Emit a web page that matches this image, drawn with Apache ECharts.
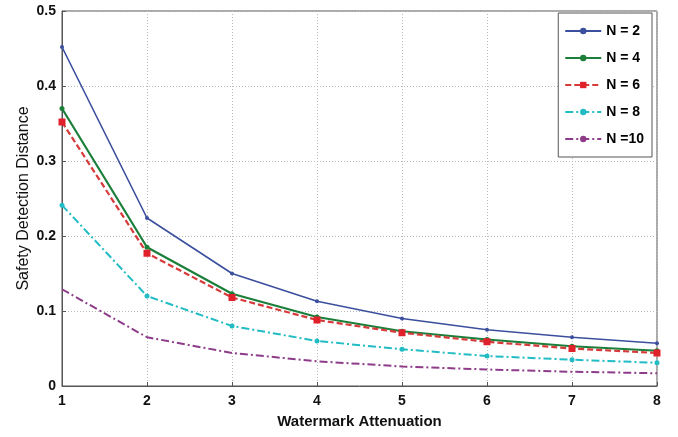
<!DOCTYPE html>
<html>
<head>
<meta charset="utf-8">
<script src="https://cdn.jsdelivr.net/npm/echarts@6/dist/echarts.min.js"></script>
<style>
  html, body { margin: 0; padding: 0; background: #fff; }
  #chart { width: 678px; height: 437px; }
</style>
</head>
<body>
<div id="chart"></div>
<script>
// values
var attenuation = [1, 2, 3, 4, 5, 6, 7, 8]
var n2 = [0.452, 0.224, 0.150, 0.113, 0.090, 0.075, 0.065, 0.057]
var n4 = [0.370, 0.185, 0.123, 0.092, 0.073, 0.062, 0.053, 0.047]
var n6 = [0.352, 0.177, 0.118, 0.088, 0.071, 0.059, 0.050, 0.044]
var n8 = [0.241, 0.120, 0.080, 0.060, 0.049, 0.040, 0.035, 0.031]
var n10 = [0.129, 0.065, 0.044, 0.033, 0.026, 0.022, 0.019, 0.017]
var seriesNames = ['N = 2', 'N = 4', 'N = 6', 'N = 8', 'N =10']

function pairs(vals) {
  return attenuation.map(function (x, i) { return [x, vals[i]] })
}

var chart = echarts.init(document.getElementById('chart'))

var font = 'Liberation Sans, Arial, sans-serif'

var option = {
  animation: false,
  backgroundColor: '#fff',
  grid: {
    left: 62, right: 21, top: 11, bottom: 51,
    show: true, borderColor: '#555', borderWidth: 1
  },
  legend: {
    orient: 'vertical',
    right: 26, top: 13,
    padding: [11, 8, 11, 6],
    itemGap: 13,
    itemWidth: 36, itemHeight: 8,
    backgroundColor: '#fff',
    borderColor: '#555', borderWidth: 1,
    textStyle: { fontFamily: font, fontWeight: 'bold', fontSize: 14, color: '#000' },
    data: seriesNames
  },
  xAxis: {
    type: 'value', min: 1, max: 8, interval: 1,
    name: 'Watermark Attenuation',
    nameLocation: 'middle', nameGap: 28,
    nameTextStyle: { fontFamily: font, fontWeight: 'bold', fontSize: 15, color: '#111' },
    axisLine: { lineStyle: { color: '#555' } },
    axisTick: { inside: true, length: 4, lineStyle: { color: '#555' } },
    axisLabel: { fontFamily: font, fontWeight: 'bold', fontSize: 14, color: '#111', margin: 8 },
    splitLine: { show: true, lineStyle: { color: '#bbb', type: [1, 2] } }
  },
  yAxis: {
    type: 'value', min: 0, max: 0.5, interval: 0.1,
    name: 'Safety Detection Distance',
    nameLocation: 'middle', nameGap: 30, nameMoveOverlap: false,
    nameTextStyle: { fontFamily: font, fontSize: 16, color: '#111' },
    axisLine: { show: true, lineStyle: { color: '#555' } },
    axisTick: { show: true, inside: true, length: 4, lineStyle: { color: '#555' } },
    axisLabel: { fontFamily: font, fontWeight: 'bold', fontSize: 14, color: '#111', margin: 6 },
    splitLine: { show: true, lineStyle: { color: '#bbb', type: [1, 2] } }
  },
  series: [
    {
      name: seriesNames[0], type: 'line', data: pairs(n2),
      symbol: 'circle', symbolSize: 4,
      itemStyle: { color: '#3b4f9e' },
      lineStyle: { color: '#3b4f9e', width: 1.6 }
    },
    {
      name: seriesNames[1], type: 'line', data: pairs(n4),
      symbol: 'circle', symbolSize: 5,
      itemStyle: { color: '#1b7f3a' },
      lineStyle: { color: '#1b7f3a', width: 2.2 }
    },
    {
      name: seriesNames[2], type: 'line', data: pairs(n6),
      symbol: 'rect', symbolSize: 7,
      itemStyle: { color: '#e0202a' },
      lineStyle: { color: '#d63a3a', width: 2.2, type: [6, 3] }
    },
    {
      name: seriesNames[3], type: 'line', data: pairs(n8),
      symbol: 'circle', symbolSize: 5,
      itemStyle: { color: '#22bcc4' },
      lineStyle: { color: '#22bcc4', width: 2, type: [8, 3, 2, 3] }
    },
    {
      name: seriesNames[4], type: 'line', data: pairs(n10),
      symbol: 'none',
      itemStyle: { color: '#8e3c8a' },
      lineStyle: { color: '#8e3c8a', width: 2, type: [8, 3, 2, 3] }
    }
  ]
}

chart.setOption(option)
</script>
</body>
</html>
